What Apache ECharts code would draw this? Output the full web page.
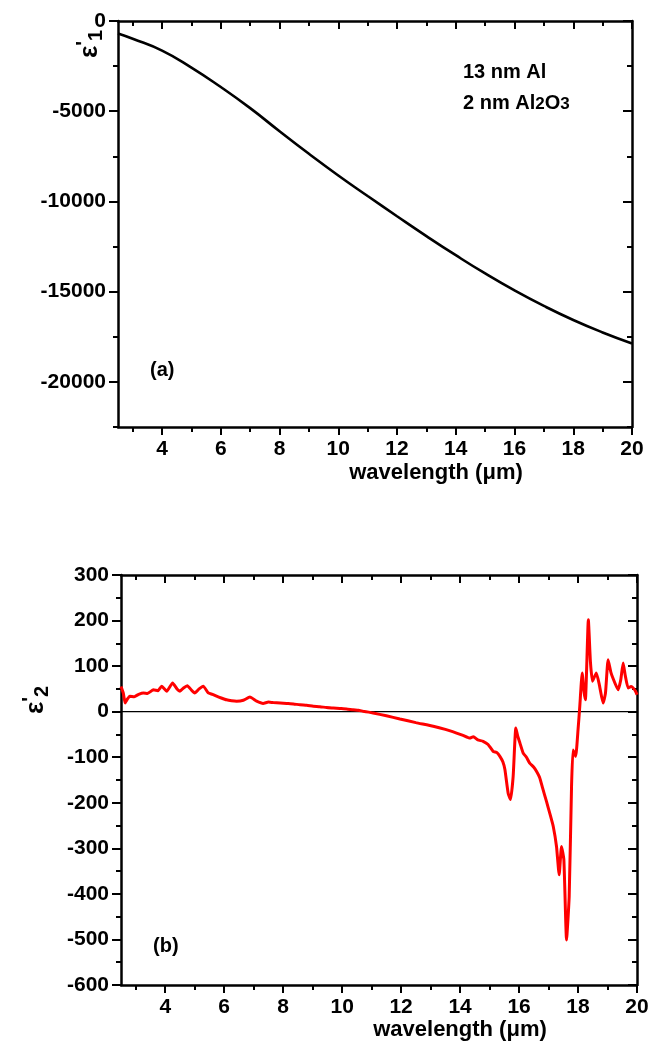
<!DOCTYPE html>
<html><head><meta charset="utf-8">
<script src="https://cdn.jsdelivr.net/npm/echarts@6/dist/echarts.min.js"></script>
<style>html,body{margin:0;padding:0;background:#fff}#c{width:650px;height:1059px}</style>
</head><body><div id="c"></div>
<script>
// ---- data ----
const wlA = [2.5, 3, 4, 5, 6, 7, 8, 9, 10, 11, 12, 13, 14, 15, 16, 17, 18, 19, 20];
const eps1 = [-690, -980, -1640, -2580, -3660, -4830, -6110, -7360, -8560, -9700, -10820, -11920, -12980, -13990, -14930, -15790, -16570, -17260, -17870];

const wlB = [
  2.5, 2.58, 2.64, 2.72, 2.8, 2.95, 3.1, 3.26, 3.4, 3.6,
  3.75, 3.88, 4.05, 4.25, 4.4, 4.5, 4.62, 4.75, 4.88, 5.0,
  5.15, 5.29, 5.46, 5.6, 5.74, 5.9, 6.08, 6.25, 6.42, 6.65,
  6.87, 7.1, 7.32, 7.5, 7.66, 7.9, 8.12, 8.35, 8.57, 8.8,
  9.02, 9.25, 9.47, 9.7, 9.92, 10.15, 10.37, 10.55, 10.71, 10.9,
  11.05, 11.5, 11.96, 12.5, 13.09, 13.5, 13.88, 14.1, 14.33, 14.45,
  14.6, 14.78, 14.95, 15.12, 15.25, 15.35, 15.45, 15.52, 15.63, 15.71,
  15.8, 15.89, 15.96, 16.03, 16.14, 16.25, 16.36, 16.5, 16.59, 16.7,
  16.8, 16.93, 17.05, 17.16, 17.27, 17.36, 17.44, 17.52, 17.61, 17.7,
  17.78, 17.83, 17.92, 18.0, 18.06, 18.14, 18.2, 18.25, 18.35, 18.42,
  18.49, 18.62, 18.72, 18.85, 18.93, 19.02, 19.12, 19.25, 19.36, 19.45,
  19.53, 19.6, 19.7, 19.8, 19.87, 19.95, 20.0
];
const eps2 = [
  55, 40, 19, 28, 34, 33, 38, 41, 40, 48,
  46, 56, 45, 63, 50, 45, 52, 57, 48, 41,
  50, 56, 41, 38, 34, 30, 26, 24, 23, 25,
  32, 23, 18, 21, 20, 19, 18, 17, 15, 14,
  12, 11, 9, 8, 7, 6, 4, 3, 1, -1,
  -3, -9, -16, -24, -32, -39, -47, -52, -58, -55,
  -62, -65, -72, -87, -90, -98, -110, -127, -179, -193,
  -142, -36, -55, -69, -91, -100, -113, -122, -131, -145,
  -168, -197, -225, -252, -296, -358, -296, -325, -501, -406,
  -164, -84, -98, -40, 12, 85, 45, 26, 202, 110,
  67, 85, 60, 19, 40, 114, 85, 63, 48, 70,
  107, 80, 52, 55, 52, 45, 37
];
const zeroRef = [[2.5, 0], [20, 0]];

const xMajor = [4, 6, 8, 10, 12, 14, 16, 18, 20];
const xMinor = [3, 5, 7, 9, 11, 13, 15, 17, 19];
const yMajorA = [-20000, -15000, -10000, -5000, 0];
const yMinorA = [-22500, -17500, -12500, -7500, -2500];
const yMajorB = [-600, -500, -400, -300, -200, -100, 0, 100, 200, 300];
const yMinorB = [-550, -450, -350, -250, -150, -50, 50, 150, 250];

const xTitle = 'wavelength (μm)';
const FONT = '"Liberation Sans", Arial, sans-serif';

// ---- axes helpers ----
function axisBase(grid, pos, min, max, ticks, len, inside, showLine) {
  return {
    type: 'value', gridIndex: grid, position: pos, min: min, max: max,
    axisLine: { show: showLine, onZero: false, lineStyle: { color: '#000', width: 2.5 } },
    axisTick: { show: true, customValues: ticks, length: len, inside: inside, lineStyle: { color: '#000', width: 2 } },
    axisLabel: { show: false },
    splitLine: { show: false }
  };
}
function labeled(ax, labels, margin) {
  ax.axisLabel = {
    show: true, customValues: labels, margin: margin,
    color: '#000', fontFamily: FONT, fontWeight: 'bold', fontSize: 21,
    formatter: v => String(v)
  };
  return ax;
}

const xAxes = [], yAxes = [];
const gridsCfg = [
  { min: -22500, max: 0, major: yMajorA, minor: yMinorA },
  { min: -600, max: 300, major: yMajorB, minor: yMinorB }
];
gridsCfg.forEach((g, gi) => {
  xAxes.push(labeled(axisBase(gi, 'bottom', 2.5, 20, xMajor, 8, false, true), xMajor, 12));
  xAxes.push(axisBase(gi, 'bottom', 2.5, 20, xMinor, 5, false, false));
  xAxes.push(axisBase(gi, 'top', 2.5, 20, xMajor, 8, true, true));
  xAxes.push(axisBase(gi, 'top', 2.5, 20, xMinor, 5, true, false));

  yAxes.push(labeled(axisBase(gi, 'left', g.min, g.max, g.major, 9, false, true), g.major, 12));
  yAxes.push(axisBase(gi, 'left', g.min, g.max, g.minor, 5, false, false));
  yAxes.push(axisBase(gi, 'right', g.min, g.max, g.major, 9, true, true));
  yAxes.push(axisBase(gi, 'right', g.min, g.max, g.minor, 5, true, false));
});

const txt = { fill: '#000', fontFamily: FONT, fontWeight: 'bold', fontSize: 20 };
function epsLabel(x, y, sub) {
  return {
    type: 'text', x: x, y: y, rotation: Math.PI / 2,
    style: {
      text: '{e|ε}{p|\'}{s|' + sub + '}',
      align: 'center', verticalAlign: 'middle',
      rich: {
        e: { fontFamily: FONT, fontWeight: 'bold', fontSize: 26, lineHeight: 32, fill: '#000' },
        p: { fontFamily: FONT, fontWeight: 'bold', fontSize: 20, lineHeight: 12, verticalAlign: 'top', fill: '#000' },
        s: { fontFamily: FONT, fontWeight: 'bold', fontSize: 20, lineHeight: 12, verticalAlign: 'bottom', fill: '#000' }
      }
    }
  };
}
function titleText(x, y) {
  return { type: 'text', x: x, y: y, style: Object.assign({ text: xTitle, align: 'center', verticalAlign: 'middle' }, txt, { fontSize: 22 }) };
}

const chart = echarts.init(document.getElementById('c'), null, { renderer: 'canvas' });
chart.setOption({
  animation: false,
  backgroundColor: '#fff',
  grid: [
    { left: 118, top: 21, width: 514, height: 406, containLabel: false, outerBoundsMode: 'none' },
    { left: 121, top: 575, width: 516, height: 410, containLabel: false, outerBoundsMode: 'none' }
  ],
  xAxis: xAxes,
  yAxis: yAxes,
  series: [
    {
      type: 'line', xAxisIndex: 0, yAxisIndex: 0, smooth: true, showSymbol: false,
      data: wlA.map((x, i) => [x, eps1[i]]),
      lineStyle: { color: '#000', width: 2.6 }
    },
    {
      type: 'line', xAxisIndex: 4, yAxisIndex: 4, showSymbol: false,
      data: zeroRef, lineStyle: { color: '#000', width: 1.4 }
    },
    {
      type: 'line', xAxisIndex: 4, yAxisIndex: 4, showSymbol: false, smooth: 0.15,
      data: wlB.map((x, i) => [x, eps2[i]]),
      lineStyle: { color: '#ff0000', width: 3 }
    }
  ],
  graphic: [
    { type: 'text', x: 463, y: 72, style: Object.assign({ text: '13 nm Al', verticalAlign: 'middle' }, txt) },
    {
      type: 'text', x: 463, y: 100,
      style: {
        text: '{t|2 nm Al}{s|2}{t|O}{s|3}', verticalAlign: 'middle',
        rich: {
          t: { fontFamily: FONT, fontWeight: 'bold', fontSize: 20, lineHeight: 26, verticalAlign: 'bottom', fill: '#000' },
          s: { fontFamily: FONT, fontWeight: 'bold', fontSize: 17, lineHeight: 11, verticalAlign: 'bottom', fill: '#000' }
        }
      }
    },
    { type: 'text', x: 150, y: 370, style: Object.assign({ text: '(a)', verticalAlign: 'middle' }, txt) },
    { type: 'text', x: 153, y: 946, style: Object.assign({ text: '(b)', verticalAlign: 'middle' }, txt) },
    titleText(436, 473),
    titleText(460, 1030),
    epsLabel(90, 44, '1'),
    epsLabel(36, 700, '2')
  ]
});
</script>
</body></html>
